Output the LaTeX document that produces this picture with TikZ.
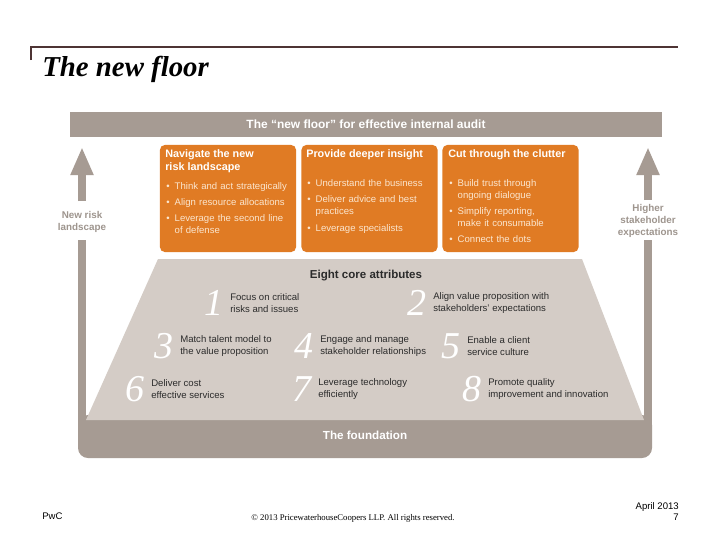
\documentclass[tikz,border=0pt]{standalone}
\usepackage{fontspec}
\setmainfont{Liberation Sans}
\newfontfamily\serifface{Liberation Serif}
\usetikzlibrary{arrows.meta,positioning,calc}
\definecolor{pwcorange}{HTML}{E07B24}
\definecolor{pwcdark}{HTML}{A69B93}
\definecolor{pwclight}{HTML}{D4CCC6}
\definecolor{pwcline}{HTML}{4E3434}
\definecolor{pwccream}{HTML}{FBE6CF}
\definecolor{pwcgray}{HTML}{9E958E}
\definecolor{pwcink}{HTML}{2B2B2B}

\newcommand{\bitem}[2][3pt]{\par\vspace{#1}\hangindent=6pt\hangafter=1\noindent\makebox[6pt][l]{\textbullet}#2}

\begin{document}
\begin{tikzpicture}[
    x=0.025cm, y=-0.025cm,
    >=Latex,
    bar/.style={
        fill=pwcdark,
        minimum width=14.8cm,
        minimum height=6.25mm,
        inner sep=0pt,
        text=white,
        font=\bfseries\fontsize{8.5}{10}\selectfont
    },
    orangebox/.style={
        fill=pwcorange,
        rounded corners=1.2mm,
        minimum width=3.4cm,
        minimum height=2.675cm,
        inner sep=0pt
    },
    boxtitle/.style={
        anchor=north west,
        inner sep=0pt,
        align=left,
        text=white,
        font=\bfseries\fontsize{7.7}{9.2}\selectfont
    },
    bullets/.style={
        anchor=north west,
        inner sep=0pt,
        text width=3.4cm,
        align=left,
        text=pwccream,
        font=\fontsize{6.8}{8.5}\selectfont
    },
    sidelabel/.style={
        align=center,
        inner xsep=0pt,
        text=pwcgray,
        font=\bfseries\fontsize{7}{8.5}\selectfont
    },
    bigarrow/.style={
        -{Triangle[width=5.3mm,length=7mm]},
        draw=pwcdark,
        line width=1.85mm
    },
    attrnum/.style={
        inner sep=0pt,
        text=white,
        font=\serifface\itshape\fontsize{27}{27}\selectfont
    },
    attrtext/.style={
        anchor=west,
        inner sep=0pt,
        align=left,
        text=pwcink,
        font=\fontsize{6.8}{8}\selectfont
    },
    heading/.style={
        inner sep=0pt,
        font=\bfseries\fontsize{8.2}{9}\selectfont
    },
    footer/.style={
        inner sep=0pt,
        font=\fontsize{6.8}{8}\selectfont
    }
]

\fill[white] (0,0) rectangle (720,540);
\useasboundingbox (0,0) rectangle (720,540);

% title
\draw[pwcline, line width=0.55mm] (31,60) -- (31,47) -- (678,47);
\node[anchor=base west, inner sep=0pt, font=\serifface\bfseries\itshape\fontsize{20.5}{24}\selectfont] (title) at (42,76) {The new floor};

\node[bar] (hdr) at (366,124.5) {The “new floor” for effective internal audit};

% three orange boxes
\node[orangebox] (boxA) at (228,198.5) {};
\node[orangebox] (boxB) at (369.5,198.5) {};
\node[orangebox] (boxC) at (510.5,198.5) {};

\node[boxtitle] (ttlA) at (165,149.5) {Navigate the new\\risk landscape};
\node[boxtitle] (ttlB) at (306,149.5) {Provide deeper insight};
\node[boxtitle] (ttlC) at (448,149.5) {Cut through the clutter};

\node[bullets] (lstA) at (166,177) {\bitem[0pt]{Think and act strategically}\bitem{Align resource allocations}\bitem{Leverage the second line\newline of defense}\par};
\node[bullets] (lstB) at (307,174.5) {\bitem[0pt]{Understand the business}\bitem{Deliver advice and best\newline practices}\bitem{Leverage specialists}\par};
\node[bullets] (lstC) at (449,174) {\bitem[0pt]{Build trust through\newline ongoing dialogue}\bitem{Simplify reporting,\newline make it consumable}\bitem{Connect the dots}\par};

% foundation and side shafts
\fill[pwcdark, rounded corners=2.5mm] (78,415) rectangle (652,458);
\fill[pwcdark] (78,240) rectangle (86,440);
\fill[pwcdark] (644,240) rectangle (652,440);
\fill[pwclight] (158,259) -- (582,259) -- (644,420) -- (86,420) -- cycle;

% side arrows
\node[sidelabel, inner ysep=2.4mm] (lblL) at (82,221.5) {New risk\\landscape};
\node[sidelabel, inner ysep=1mm] (lblR) at (648,221) {Higher\\stakeholder\\expectations};
\coordinate (tipL) at (82,147);
\coordinate (tipR) at (648,147);
\foreach \a/\b in {lblL/tipL,lblR/tipR}
    \draw[bigarrow] (\a) -- (\b);

\node[heading, text=pwcink] (core) at (366,276) {Eight core attributes};
\node[heading, text=white, font=\bfseries\fontsize{8.3}{9}\selectfont] (fnd) at (365,435.5) {The foundation};

% eight attributes
\node[attrtext] (att1) at (230,303) {Focus on critical\\risks and issues};
\node[attrnum, left=1.5mm of att1] (num1) {1};
\node[attrtext] (att2) at (433,303) {Align value proposition with\\stakeholders’ expectations};
\node[attrnum, left=1.5mm of att2] (num2) {2};
\node[attrtext] (att3) at (180,346) {Match talent model to\\the value proposition};
\node[attrnum, left=1.5mm of att3] (num3) {3};
\node[attrtext] (att4) at (320,346) {Engage and manage\\stakeholder relationships};
\node[attrnum, left=1.5mm of att4] (num4) {4};
\node[attrtext] (att5) at (467,346) {Enable a client\\service culture};
\node[attrnum, left=1.5mm of att5] (num5) {5};
\node[attrtext] (att6) at (151,389) {Deliver cost\\effective services};
\node[attrnum, left=1.5mm of att6] (num6) {6};
\node[attrtext] (att7) at (318,389) {Leverage technology\\efficiently};
\node[attrnum, left=1.5mm of att7] (num7) {7};
\node[attrtext] (att8) at (488,389) {Promote quality\\improvement and innovation};
\node[attrnum, left=1.5mm of att8] (num8) {8};

% footer
\node[footer, anchor=base west] (pwc) at (42,519) {PwC};
\node[footer, anchor=base, font=\serifface\fontsize{6.2}{7}\selectfont] (copy) at (353,520) {© 2013 PricewaterhouseCoopers LLP. All rights reserved.};
\node[footer, anchor=base east] (date) at (679,509) {April 2013};
\node[footer, anchor=base east] (page) at (679,520) {7};

\end{tikzpicture}
\end{document}
